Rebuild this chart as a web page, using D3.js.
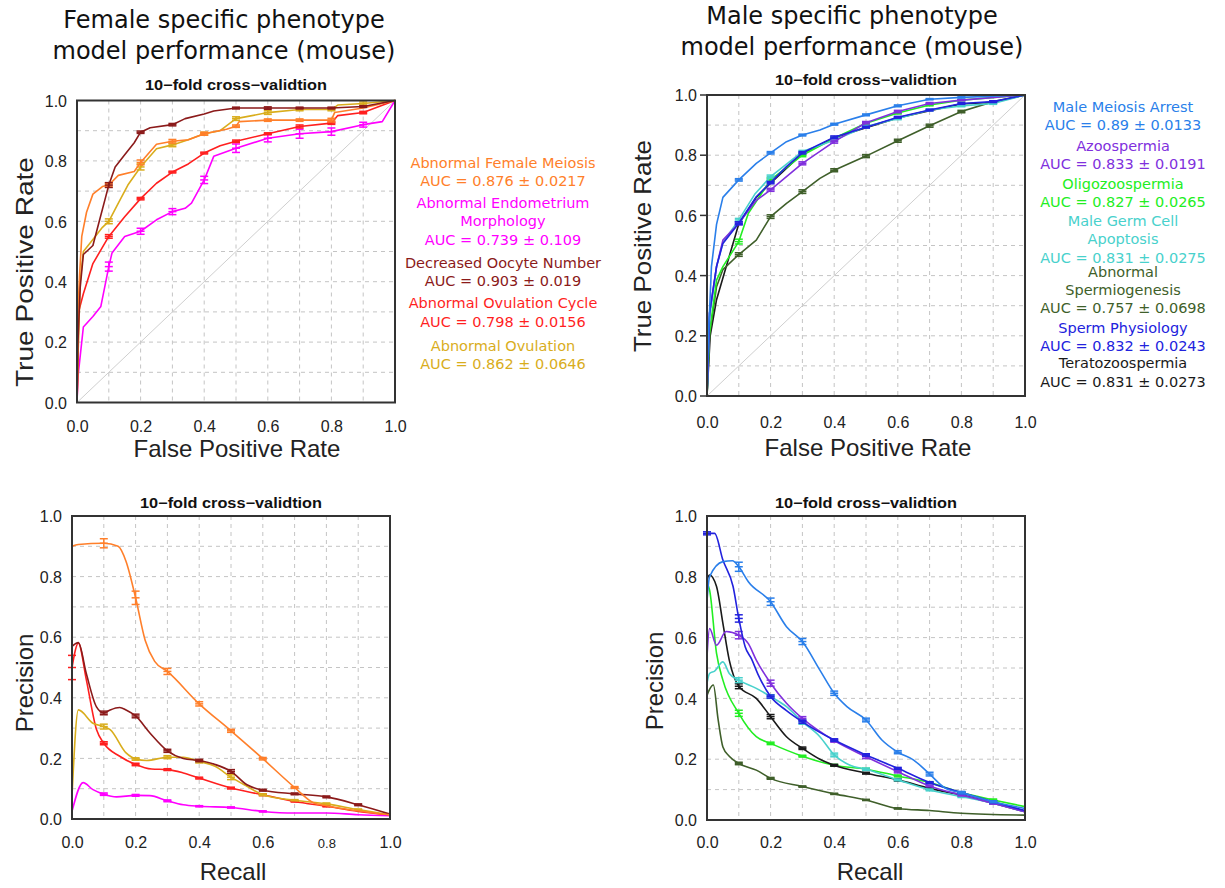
<!DOCTYPE html>
<html><head><meta charset="utf-8">
<script src="https://cdn.jsdelivr.net/npm/d3@7"></script>
<style>body{margin:0;background:#fff}svg{display:block}</style>
</head><body>
<svg id="c" width="1225" height="888"></svg>
<script>
// ---------- DATA ----------
const ticks = [0, 0.2, 0.4, 0.6, 0.8, 1.0];
const gridVals = [0.1,0.2,0.3,0.4,0.5,0.6,0.7,0.8,0.9];
const subtitle = "10\u2212fold cross\u2212validtion";

// Female ROC: [fpr, tpr, err?]
const rocF_meiosis = [[0,0],[0.003,0.3],[0.008,0.42],[0.015,0.55],[0.03,0.63],[0.05,0.69],[0.08,0.715],[0.1,0.72,0.006],[0.13,0.752],[0.18,0.765],[0.2,0.795,0.008],[0.25,0.855],[0.3,0.865,0.006],[0.35,0.87],[0.4,0.89,0.005],[0.47,0.905],[0.5,0.915,0.004],[0.51,0.93],[0.6,0.935,0.004],[0.7,0.935,0.004],[0.8,0.935,0.006],[0.81,0.96],[0.9,0.975],[1,1]];
const rocF_endometrium = [[0,0],[0.003,0.085],[0.02,0.25],[0.05,0.285],[0.075,0.318],[0.1,0.45,0.015],[0.11,0.495],[0.15,0.55],[0.2,0.567,0.01],[0.25,0.605],[0.3,0.632,0.01],[0.34,0.643],[0.36,0.66],[0.4,0.737,0.012],[0.43,0.815],[0.5,0.842,0.014],[0.6,0.875,0.012],[0.7,0.89,0.015],[0.8,0.897,0.012],[0.9,0.92,0.008],[0.96,0.93],[1,1]];
const rocF_oocyte = [[0,0],[0.003,0.2],[0.01,0.38],[0.02,0.49],[0.04,0.51],[0.05,0.52],[0.07,0.6],[0.09,0.68],[0.1,0.72,0.008],[0.12,0.78],[0.15,0.82],[0.18,0.86],[0.2,0.895,0.004],[0.23,0.91],[0.3,0.92,0.004],[0.34,0.94],[0.4,0.955],[0.43,0.965],[0.5,0.975,0.003],[0.6,0.975,0.004],[0.7,0.975,0.003],[0.8,0.975,0.003],[0.9,0.98,0.003],[1,1]];
const rocF_cycle = [[0,0],[0.003,0.1],[0.005,0.3],[0.02,0.36],[0.05,0.46],[0.1,0.55,0.006],[0.15,0.615],[0.2,0.675,0.004],[0.25,0.726],[0.3,0.763,0.003],[0.35,0.79],[0.4,0.826,0.003],[0.45,0.85],[0.5,0.865,0.004],[0.6,0.89,0.003],[0.7,0.914,0.005],[0.8,0.925,0.004],[0.82,0.95],[0.9,0.96,0.004],[1,1]];
const rocF_ovulation = [[0,0],[0.003,0.15],[0.01,0.4],[0.02,0.5],[0.05,0.54],[0.08,0.58],[0.1,0.6,0.008],[0.13,0.66],[0.16,0.72],[0.2,0.78,0.01],[0.25,0.84],[0.3,0.853,0.006],[0.35,0.87],[0.4,0.89,0.005],[0.45,0.9],[0.5,0.94,0.006],[0.6,0.96,0.006],[0.7,0.97,0.004],[0.8,0.97,0.004],[0.82,0.985],[0.9,0.99,0.005],[1,1]];

// Male ROC
const rocM_meiosis = [[0,0],[0.003,0.16],[0.014,0.43],[0.03,0.57],[0.05,0.66],[0.1,0.718,0.004],[0.155,0.773],[0.2,0.808,0.004],[0.25,0.845],[0.3,0.867,0.003],[0.355,0.884],[0.4,0.903,0.003],[0.5,0.934,0.003],[0.6,0.964,0.003],[0.7,0.986,0.002],[0.8,0.992,0.002],[1,1]];
const rocM_azoo = [[0,0],[0.008,0.275],[0.03,0.43],[0.05,0.518],[0.1,0.574,0.005],[0.155,0.65],[0.2,0.685,0.005],[0.3,0.773,0.005],[0.4,0.845,0.005],[0.5,0.908,0.004],[0.6,0.945,0.004],[0.7,0.972,0.003],[0.8,0.983,0.002],[1,1]];
const rocM_oligo = [[0,0],[0.008,0.21],[0.03,0.385],[0.05,0.43],[0.1,0.513,0.008],[0.13,0.607],[0.2,0.718,0.006],[0.3,0.8,0.005],[0.4,0.856,0.004],[0.5,0.906,0.004],[0.6,0.94,0.003],[0.7,0.967,0.003],[0.8,0.983,0.002],[1,1]];
const rocM_apoptosis = [[0,0],[0.008,0.26],[0.03,0.43],[0.05,0.51],[0.1,0.585,0.005],[0.15,0.67],[0.2,0.729,0.005],[0.3,0.812,0.004],[0.4,0.85,0.004],[0.5,0.895,0.004],[0.6,0.922,0.004],[0.7,0.95,0.003],[0.8,0.964,0.003],[0.9,0.972,0.003],[1,1]];
const rocM_spermio = [[0,0],[0.008,0.2],[0.03,0.363],[0.05,0.42],[0.1,0.47,0.006],[0.155,0.518],[0.2,0.596,0.006],[0.25,0.64],[0.3,0.679,0.006],[0.355,0.723],[0.4,0.75,0.005],[0.5,0.797,0.005],[0.6,0.848,0.005],[0.7,0.898,0.005],[0.8,0.945,0.004],[0.9,0.978,0.003],[1,1]];
const rocM_physio = [[0,0],[0.008,0.275],[0.03,0.43],[0.05,0.507],[0.1,0.574,0.005],[0.155,0.662],[0.2,0.709,0.004],[0.25,0.762],[0.3,0.808,0.004],[0.4,0.86,0.004],[0.5,0.893,0.003],[0.6,0.926,0.003],[0.7,0.95,0.003],[0.8,0.972,0.003],[0.9,0.978,0.003],[1,1]];
const rocM_terato = [[0,0],[0.01,0.2],[0.03,0.32],[0.055,0.41],[0.1,0.572],[0.155,0.66],[0.2,0.707],[0.3,0.806],[0.4,0.858],[0.5,0.891],[0.6,0.924],[0.7,0.948],[0.8,0.97],[0.9,0.976],[1,1]];

// Female PR: [recall, precision, err?]
const prF_meiosis = [[0,0.9],[0.02,0.906],[0.1,0.91,0.015],[0.145,0.9],[0.17,0.85],[0.2,0.73,0.022],[0.23,0.59],[0.26,0.52],[0.3,0.487,0.01],[0.4,0.38,0.007],[0.5,0.291,0.005],[0.6,0.199,0.004],[0.7,0.104,0.003],[0.76,0.053],[0.8,0.044],[1,0.014]];
const prF_endometrium = [[0,0.025],[0.035,0.12],[0.066,0.097],[0.1,0.082,0.004],[0.14,0.073],[0.2,0.078,0.003],[0.245,0.077],[0.3,0.06,0.003],[0.35,0.047],[0.4,0.042,0.002],[0.5,0.038,0.002],[0.6,0.025,0.002],[0.7,0.02],[0.8,0.02],[0.9,0.014],[1,0.011]];
const prF_oocyte = [[0,0.57],[0.02,0.582],[0.045,0.48],[0.077,0.37],[0.1,0.35,0.006],[0.12,0.36],[0.15,0.368],[0.17,0.36],[0.2,0.34,0.006],[0.245,0.284],[0.3,0.225,0.005],[0.35,0.2],[0.4,0.193,0.004],[0.45,0.18],[0.5,0.157,0.006],[0.55,0.113],[0.6,0.095,0.003],[0.7,0.083,0.003],[0.8,0.073,0.003],[0.9,0.047,0.003],[1,0.016]];
const prF_cycle = [[0,0.5,0.04],[0.02,0.58],[0.045,0.46],[0.077,0.295],[0.1,0.25,0.005],[0.15,0.207],[0.2,0.18,0.004],[0.25,0.165],[0.3,0.163,0.003],[0.35,0.152],[0.4,0.135,0.003],[0.5,0.102,0.003],[0.6,0.08,0.003],[0.7,0.058,0.002],[0.8,0.042,0.002],[0.9,0.025],[1,0.014]];
const prF_ovulation = [[0,0.075],[0.02,0.36],[0.066,0.316],[0.1,0.305,0.008],[0.12,0.295],[0.17,0.218],[0.2,0.198,0.004],[0.235,0.193],[0.3,0.204,0.005],[0.35,0.204],[0.4,0.19,0.005],[0.45,0.174],[0.5,0.138,0.008],[0.55,0.108],[0.6,0.08,0.003],[0.7,0.062,0.002],[0.8,0.05,0.003],[0.9,0.031,0.002],[1,0.014]];

// Male PR
const prM_meiosis = [[0,0.72],[0.008,0.8],[0.05,0.85],[0.08,0.853],[0.1,0.833,0.015],[0.13,0.784],[0.2,0.718,0.012],[0.25,0.636],[0.3,0.587,0.01],[0.355,0.493],[0.4,0.417,0.007],[0.44,0.373],[0.5,0.329,0.006],[0.55,0.263],[0.6,0.223,0.005],[0.65,0.197],[0.7,0.151,0.006],[0.75,0.104],[0.8,0.09,0.004],[0.9,0.06,0.003],[1,0.038]];
const prM_azoo = [[0,0.537],[0.008,0.63],[0.03,0.575],[0.06,0.62],[0.1,0.608,0.012],[0.13,0.58],[0.155,0.526],[0.2,0.45,0.01],[0.25,0.384],[0.3,0.334,0.006],[0.4,0.261,0.005],[0.5,0.208,0.006],[0.6,0.159,0.004],[0.7,0.112,0.003],[0.8,0.082,0.003],[0.9,0.055,0.003],[1,0.027]];
const prM_oligo = [[0,0.78],[0.008,0.757],[0.03,0.548],[0.05,0.46],[0.1,0.351,0.01],[0.155,0.274],[0.2,0.252,0.004],[0.3,0.21,0.003],[0.4,0.18,0.003],[0.5,0.167,0.003],[0.6,0.145,0.003],[0.7,0.123,0.003],[0.8,0.09,0.003],[0.9,0.066,0.003],[1,0.044]];
const prM_apoptosis = [[0,0.45],[0.008,0.482],[0.024,0.49],[0.05,0.52],[0.07,0.482],[0.1,0.46,0.008],[0.155,0.433],[0.2,0.406,0.006],[0.25,0.373],[0.3,0.323,0.008],[0.355,0.274],[0.4,0.214,0.006],[0.45,0.18],[0.5,0.167,0.004],[0.6,0.132,0.003],[0.7,0.099,0.003],[0.8,0.077,0.003],[0.9,0.055,0.003],[1,0.027]];
const prM_spermio = [[0,0.41],[0.008,0.43],[0.02,0.444],[0.035,0.33],[0.05,0.24],[0.07,0.21],[0.1,0.186,0.004],[0.155,0.164],[0.2,0.137,0.003],[0.3,0.11,0.002],[0.4,0.086,0.002],[0.5,0.066,0.002],[0.6,0.038,0.002],[0.7,0.031],[0.8,0.022],[1,0.016]];
const prM_physio = [[0,0.943,0.005],[0.024,0.943],[0.05,0.855],[0.082,0.768],[0.1,0.663,0.012],[0.12,0.57],[0.14,0.53],[0.16,0.48],[0.2,0.406,0.005],[0.25,0.36],[0.3,0.323,0.005],[0.4,0.263,0.004],[0.5,0.214,0.004],[0.6,0.17,0.003],[0.7,0.123,0.003],[0.8,0.09,0.003],[0.9,0.06,0.003],[1,0.031]];
const prM_terato = [[0,0.79],[0.008,0.806],[0.03,0.768],[0.05,0.647],[0.07,0.526],[0.1,0.44,0.008],[0.155,0.4],[0.2,0.34,0.007],[0.25,0.274],[0.3,0.236,0.004],[0.355,0.2],[0.4,0.18,0.003],[0.5,0.154,0.003],[0.6,0.132,0.004],[0.7,0.104,0.003],[0.8,0.082,0.003],[0.9,0.055,0.003],[1,0.027]];

// Legends
const femaleNames = ["Abnormal Female Meiosis","Abnormal Endometrium\nMorphology","Decreased Oocyte Number","Abnormal Ovulation Cycle","Abnormal Ovulation"];
const femaleAUC = ["AUC = 0.876 \u00b1 0.0217","AUC = 0.739 \u00b1 0.109","AUC = 0.903 \u00b1 0.019","AUC = 0.798 \u00b1 0.0156","AUC = 0.862 \u00b1 0.0646"];
const femaleColors = ["#ff7f2a","#ff00ff","#8b1a1a","#ff1f1f","#d9ad1c"];
const maleNames = ["Male Meiosis Arrest","Azoospermia","Oligozoospermia","Male Germ Cell\nApoptosis","Abnormal\nSpermiogenesis","Sperm Physiology","Teratozoospermia"];
const maleAUC = ["AUC = 0.89 \u00b1 0.0133","AUC = 0.833 \u00b1 0.0191","AUC = 0.827 \u00b1 0.0265","AUC = 0.831 \u00b1 0.0275","AUC = 0.757 \u00b1 0.0698","AUC = 0.832 \u00b1 0.0243","AUC = 0.831 \u00b1 0.0273"];
const maleColors = ["#2a7fea","#8030dd","#22ee22","#48d1cc","#3f5f2a","#2222dd","#1a1a1a"];

// ---------- DRAW ----------
const svg = d3.select("#c");
const SANS = "'Liberation Sans', Arial, sans-serif";
const DJ = "'DejaVu Sans', sans-serif";

function panel(o) {
  const x = d3.scaleLinear().domain([0,1]).range([o.x0,o.x1]);
  const y = d3.scaleLinear().domain([0,1]).range([o.y1,o.y0]);
  const g = svg.append("g");
  // grid
  g.selectAll(".gx").data(gridVals).join("line")
    .attr("x1", d=>x(d)).attr("x2", d=>x(d)).attr("y1", o.y0).attr("y2", o.y1)
    .attr("stroke","#c4c4c4").attr("stroke-width",1).attr("stroke-dasharray","4,4");
  g.selectAll(".gy").data(gridVals).join("line")
    .attr("y1", d=>y(d)).attr("y2", d=>y(d)).attr("x1", o.x0).attr("x2", o.x1)
    .attr("stroke","#c4c4c4").attr("stroke-width",1).attr("stroke-dasharray","4,4");
  if (o.diag) {
    g.append("line").attr("x1",x(0)).attr("y1",y(0)).attr("x2",x(1)).attr("y2",y(1))
      .attr("stroke","#cfcfcf").attr("stroke-width",1);
  }
  // axes tick labels
  const ax = d3.axisBottom(x).tickValues(ticks).tickFormat(d3.format(".1f")).tickSize(0).tickPadding(0);
  const axG = g.append("g").attr("transform",`translate(0,${o.xLabY})`).call(ax);
  axG.select(".domain").remove();
  axG.selectAll("text").attr("font-family",SANS).attr("font-size",16).attr("fill","#222").attr("dy",0)
    .attr("font-size", d => (o.small08 && d===0.8) ? 13 : 16);
  const ay = d3.axisLeft(y).tickValues(ticks).tickFormat(d3.format(".1f")).tickSize(0).tickPadding(0);
  const ayG = g.append("g").attr("transform",`translate(${o.yLabX},0)`).call(ay);
  ayG.select(".domain").remove();
  ayG.selectAll("text").attr("font-family",SANS).attr("font-size",16).attr("fill","#222").attr("dy","0.36em");
  if (o.outTicks) {
    g.selectAll(".ot").data(ticks).join("line").attr("x1",o.x0-7).attr("x2",o.x0).attr("y1",d=>y(d)).attr("y2",d=>y(d))
      .attr("stroke","#333").attr("stroke-width",1.5);
  }
  // curves
  const line = d3.line().x(d=>x(d[0])).y(d=>y(d[1])).curve(o.curve);
  o.series.forEach(s => {
    g.append("path").datum(s.data).attr("d",line).attr("fill","none")
      .attr("stroke",s.color).attr("stroke-width",1.6).attr("stroke-linejoin","round");
    const eb = s.data.filter(d=>d.length>2);
    const ebg = g.append("g").attr("stroke",s.color).attr("stroke-width",1.5);
    eb.forEach(d => {
      const cx = x(d[0]), ya = y(d[1]+d[2]), yb = y(d[1]-d[2]);
      ebg.append("line").attr("x1",cx).attr("x2",cx).attr("y1",ya).attr("y2",yb);
      ebg.append("line").attr("x1",cx-4).attr("x2",cx+4).attr("y1",ya).attr("y2",ya);
      ebg.append("line").attr("x1",cx-4).attr("x2",cx+4).attr("y1",yb).attr("y2",yb);
      ebg.append("line").attr("x1",cx-4).attr("x2",cx+4).attr("y1",y(d[1])).attr("y2",y(d[1]));
    });
  });
  // frame
  g.append("rect").attr("x",o.x0).attr("y",o.y0).attr("width",o.x1-o.x0).attr("height",o.y1-o.y0)
    .attr("fill","none").attr("stroke","#333").attr("stroke-width",2);
  // subtitle
  g.append("text").attr("x",(o.x0+o.x1)/2).attr("y",o.subY).attr("text-anchor","middle")
    .attr("font-family",SANS).attr("font-weight","bold").attr("font-size",14).attr("fill","#111")
    .attr("textLength",182).attr("lengthAdjust","spacingAndGlyphs").text(subtitle);
  // axis titles
  g.append("text").attr("x",o.xtX).attr("y",o.xtY).attr("text-anchor","middle")
    .attr("font-family",SANS).attr("font-size",24).attr("fill","#222").text(o.xTitle);
  const yt = g.append("text").attr("transform",`translate(${o.ytX},${o.ytY}) rotate(-90)`).attr("text-anchor","middle")
    .attr("font-family",SANS).attr("font-size",24).attr("fill","#222").text(o.yTitle);
  if (o.ytLen) yt.attr("textLength",o.ytLen).attr("lengthAdjust","spacingAndGlyphs");
}

const monotone = d3.curveMonotoneX;
panel({x0:77,x1:395,y0:100.5,y1:402.5,diag:true,curve:d3.curveLinear,xLabY:432,yLabX:67,subY:90,
  xTitle:"False Positive Rate",xtX:237,xtY:457,yTitle:"True Positive Rate",ytX:33,ytY:272,ytLen:230,
  series:[{data:rocF_endometrium,color:femaleColors[1]},{data:rocF_cycle,color:femaleColors[3]},
          {data:rocF_ovulation,color:femaleColors[4]},{data:rocF_meiosis,color:femaleColors[0]},{data:rocF_oocyte,color:femaleColors[2]}]});
panel({x0:707,x1:1025,y0:95,y1:396,diag:true,curve:d3.curveLinear,xLabY:428,yLabX:697,subY:85,outTicks:true,
  xTitle:"False Positive Rate",xtX:868,xtY:456,yTitle:"True Positive Rate",ytX:651,ytY:246,ytLen:212,
  series:[{data:rocM_terato,color:maleColors[6]},{data:rocM_spermio,color:maleColors[4]},{data:rocM_oligo,color:maleColors[2]},
          {data:rocM_apoptosis,color:maleColors[3]},{data:rocM_azoo,color:maleColors[1]},{data:rocM_physio,color:maleColors[5]},{data:rocM_meiosis,color:maleColors[0]}]});
panel({x0:72,x1:390,y0:516,y1:819,diag:false,curve:monotone,xLabY:848,yLabX:62,subY:508,small08:true,
  xTitle:"Recall",xtX:233,xtY:880,yTitle:"Precision",ytX:33,ytY:683,
  series:[{data:prF_endometrium,color:femaleColors[1]},{data:prF_cycle,color:femaleColors[3]},{data:prF_ovulation,color:femaleColors[4]},
          {data:prF_oocyte,color:femaleColors[2]},{data:prF_meiosis,color:femaleColors[0]}]});
panel({x0:707,x1:1025,y0:516,y1:820,diag:false,curve:monotone,xLabY:848,yLabX:697,subY:508,
  xTitle:"Recall",xtX:870,xtY:880,yTitle:"Precision",ytX:663,ytY:681,
  series:[{data:prM_spermio,color:maleColors[4]},{data:prM_oligo,color:maleColors[2]},{data:prM_terato,color:maleColors[6]},
          {data:prM_apoptosis,color:maleColors[3]},{data:prM_azoo,color:maleColors[1]},{data:prM_physio,color:maleColors[5]},{data:prM_meiosis,color:maleColors[0]}]});

// Main titles
function title(cx, ys, lines) {
  lines.forEach((t,i)=> svg.append("text").attr("x",cx).attr("y",ys[i]).attr("text-anchor","middle")
    .attr("font-family",DJ).attr("font-size",24).attr("fill","#111").text(t));
}
title(224,[28,59],["Female specific phenotype","model performance (mouse)"]);
title(852,[24,55],["Male specific phenotype","model performance (mouse)"]);

// Legends
function legend(cx, baselines, names, aucs, colors) {
  let k = 0;
  names.forEach((n,i) => {
    const lines = n.split("\n").concat([aucs[i]]);
    lines.forEach(t => {
      svg.append("text").attr("x",cx).attr("y",baselines[k++]).attr("text-anchor","middle")
        .attr("font-family",DJ).attr("font-size",14.5).attr("fill",colors[i]).text(t);
    });
  });
}
legend(503,[168,186,208,226,244.5,267.5,285.5,308,326.5,350.5,369],femaleNames,femaleAUC,femaleColors);
legend(1123,[111.7,130,151,169,189,207,226,244,262.7,276.7,295,313,332.7,350.7,368,386.7],maleNames,maleAUC,maleColors);
</script>
</body></html>
